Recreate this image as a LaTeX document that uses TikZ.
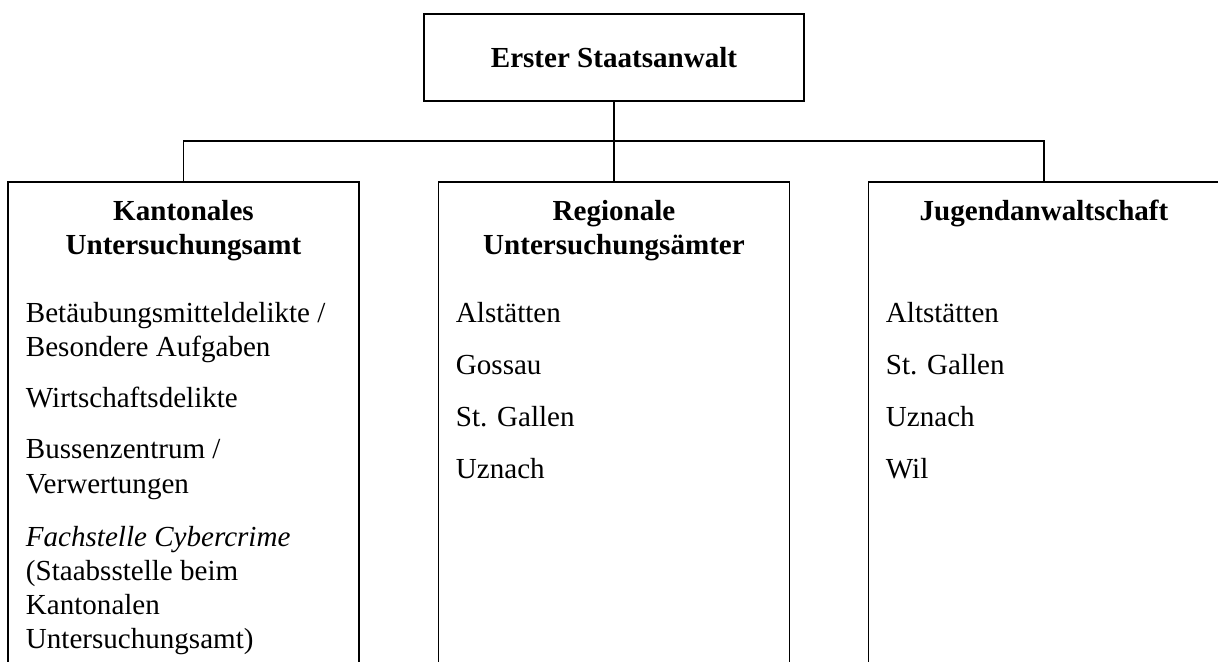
\documentclass[tikz,border=0pt]{standalone}
\usepackage{fontspec}
\setmainfont{Liberation Serif}
\usetikzlibrary{positioning}

\begin{document}
\begin{tikzpicture}[x=0.75pt, y=-0.75pt, line width=1.4pt,
    every node/.style={font=\fontsize{21.8}{25.5}\selectfont},
    chief/.style={draw, minimum width=285pt, minimum height=65.25pt, inner sep=0pt,
      font=\fontsize{21.8}{25.5}\selectfont\bfseries},
    unit/.style={draw, minimum width=263.25pt, minimum height=380pt, inner sep=0pt, anchor=north},
    head/.style={anchor=base, inner sep=0pt, font=\fontsize{21.8}{25.5}\selectfont\bfseries},
    item/.style={anchor=base west, inner sep=0pt}]
\useasboundingbox (0,0) rectangle (1218,661);

\node[chief] (erster) at (614,57.5) {Erster Staatsanwalt};
\node[unit] (kant) at (183.5,181) {};
\node[unit] (reg)  at (614,181)   {};
\node[unit] (jug)  at (1044,181)  {};

% connectors
\coordinate (bus) at (614,141);
\draw (erster) -- (bus);
\draw (kant.north) |- (bus) -| (jug.north);
\draw (bus) -- (reg.north);

% headings
\node[head] (kant-t1) at (183.5,220) {Kantonales};
\node[head] (kant-t2) at (183.5,254) {Untersuchungsamt};
\node[head] (reg-t1)  at (614,220) {Regionale};
\node[head] (reg-t2)  at (614,254) {Untersuchungsämter};
\node[head] (jug-t1)  at (1044,220) {Jugendanwaltschaft};

% entries
\foreach \y/\txt [count=\i] in {322/{Betäubungsmitteldelikte /}, 356/{Besondere Aufgaben},
    407/Wirtschaftsdelikte, 458/{Bussenzentrum /}, 493/Verwertungen,
    546/{\textit{Fachstelle Cybercrime}}, 580/{(Staabsstelle beim}, 614/Kantonalen,
    648/{Untersuchungsamt)}}
  \node[item] (kant-\i) at (25,\y) {\txt};
\foreach \y/\txt [count=\i] in {322/Alstätten, 374/Gossau, 426/{St. Gallen}, 478/Uznach}
  \node[item] (reg-\i) at (455,\y) {\txt};
\foreach \y/\txt [count=\i] in {322/Altstätten, 374/{St. Gallen}, 426/Uznach, 478/Wil}
  \node[item] (jug-\i) at (885,\y) {\txt};
\end{tikzpicture}
\end{document}
